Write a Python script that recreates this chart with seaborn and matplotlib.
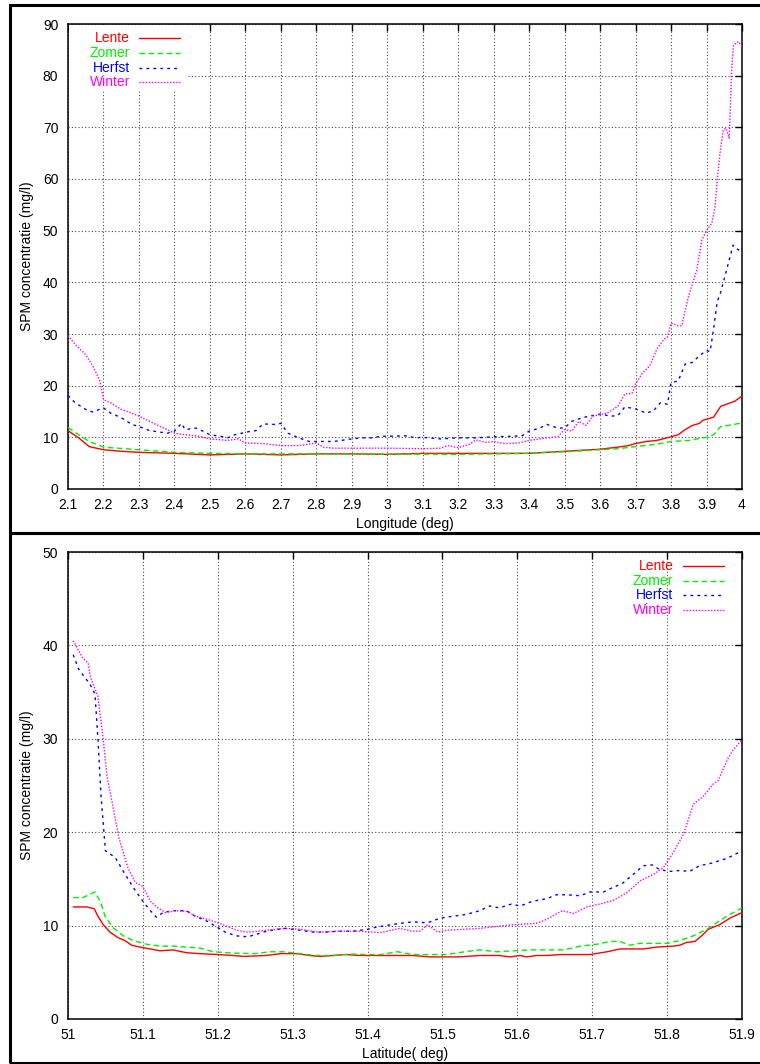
import matplotlib
matplotlib.use("Agg")
import matplotlib.pyplot as plt
from matplotlib.patches import Rectangle
from matplotlib.lines import Line2D
import seaborn as sns

# ---------------- data ----------------
series_names = ["Lente", "Zomer", "Herfst", "Winter"]

top_lente_x = [2.10,2.13,2.16,2.20,2.25,2.30,2.40,2.50,2.60,2.70,2.80,2.90,3.00,3.10,3.20,3.30,3.40,3.45,3.50,3.55,3.60,3.65,3.68,3.70,3.73,3.76,3.80,3.82,3.84,3.86,3.88,3.89,3.92,3.94,3.96,3.98,4.00]
top_lente_y = [11.3,9.9,8.2,7.6,7.3,7.1,6.9,6.6,6.8,6.6,6.8,6.8,6.7,6.9,6.9,6.9,6.9,7.1,7.3,7.5,7.7,8.1,8.4,8.8,9.2,9.4,10.1,10.5,11.5,12.3,12.7,13.3,13.9,16.0,16.5,17.0,18.0]

top_zomer_x = [2.10,2.13,2.16,2.20,2.30,2.40,2.50,2.60,2.70,2.80,2.90,3.00,3.10,3.20,3.30,3.40,3.45,3.50,3.55,3.60,3.65,3.70,3.75,3.78,3.80,3.85,3.90,3.92,3.94,3.97,4.00]
top_zomer_y = [11.9,10.5,9.2,8.1,7.6,7.1,6.9,6.8,6.8,6.8,6.8,6.75,6.75,6.7,6.8,6.9,7.1,7.2,7.4,7.6,7.8,8.2,8.6,8.9,9.2,9.4,10.0,10.5,12.1,12.4,12.8]

top_herfst_x = [2.10,2.12,2.15,2.17,2.20,2.22,2.25,2.28,2.30,2.33,2.36,2.38,2.40,2.42,2.43,2.46,2.48,2.50,2.53,2.55,2.57,2.59,2.60,2.63,2.65,2.68,2.70,2.72,2.75,2.78,2.82,2.85,2.88,2.90,2.93,2.96,2.98,3.00,3.05,3.08,3.10,3.15,3.20,3.25,3.30,3.35,3.38,3.40,3.43,3.45,3.48,3.50,3.52,3.55,3.57,3.60,3.63,3.65,3.67,3.70,3.73,3.75,3.77,3.79,3.80,3.82,3.84,3.86,3.88,3.90,3.91,3.92,3.93,3.94,3.96,3.97,3.975,3.985,4.00]
top_herfst_y = [18.1,16.7,15.4,14.9,15.7,14.7,13.8,12.5,12.1,11.3,11.0,10.8,11.2,12.7,11.5,11.8,11.2,10.5,10.2,9.9,10.5,10.8,11.0,11.3,12.6,12.5,12.7,10.8,9.9,9.2,9.2,9.2,9.5,9.7,9.9,9.9,10.2,10.2,10.3,9.9,10.0,9.7,9.9,9.9,10.1,10.2,10.3,11.2,11.8,12.5,11.8,11.8,13.1,13.8,14.1,14.5,14.1,14.2,15.9,15.5,14.7,15.1,16.7,16.4,20.6,20.9,24.2,24.5,25.8,26.8,26.6,31.0,36.2,38.1,43.3,45.9,47.2,46.5,45.9]

top_winter_x = [2.10,2.12,2.15,2.17,2.19,2.20,2.22,2.25,2.28,2.30,2.33,2.36,2.40,2.43,2.47,2.50,2.55,2.58,2.60,2.65,2.70,2.75,2.80,2.82,2.85,2.90,2.95,3.00,3.10,3.15,3.17,3.20,3.23,3.25,3.28,3.30,3.33,3.37,3.40,3.45,3.48,3.50,3.52,3.54,3.56,3.58,3.62,3.65,3.67,3.69,3.70,3.72,3.74,3.76,3.78,3.79,3.80,3.82,3.83,3.85,3.872,3.887,3.90,3.915,3.924,3.93,3.938,3.947,3.955,3.964,3.967,3.971,3.976,3.99,4.00]
top_winter_y = [29.7,28.0,26.0,23.8,20.9,17.3,16.7,15.4,14.7,14.1,13.1,12.1,10.8,10.5,10.2,9.7,9.4,9.7,8.9,8.8,8.4,8.4,8.9,8.1,7.9,7.9,7.9,7.9,7.8,7.9,8.4,8.0,8.6,9.5,9.0,9.2,8.8,8.9,9.4,9.9,10.1,11.5,11.2,13.1,12.3,14.1,14.7,16.0,18.4,18.5,20.3,22.5,23.8,27.1,29.0,29.4,32.1,31.6,31.6,37.5,42.2,48.2,50.0,51.5,54.6,59.8,65.0,69.5,69.8,67.9,74.0,81.1,85.9,86.6,85.6]

bot_lente_x = [51.007,51.025,51.035,51.040,51.047,51.056,51.067,51.076,51.085,51.096,51.110,51.123,51.140,51.158,51.176,51.200,51.220,51.235,51.265,51.284,51.305,51.323,51.336,51.354,51.370,51.390,51.417,51.460,51.483,51.523,51.550,51.576,51.590,51.604,51.612,51.626,51.640,51.657,51.697,51.720,51.737,51.768,51.786,51.808,51.817,51.826,51.837,51.846,51.855,51.870,51.884,51.900]
bot_lente_y = [12.0,12.0,11.8,11.0,10.1,9.3,8.7,8.4,7.9,7.7,7.5,7.3,7.4,7.1,7.0,6.9,6.8,6.7,6.8,7.0,7.0,6.8,6.7,6.8,6.9,6.8,6.8,6.8,6.65,6.65,6.8,6.8,6.65,6.8,6.65,6.8,6.8,6.9,6.9,7.2,7.5,7.5,7.7,7.8,7.9,8.2,8.3,8.9,9.6,10.1,10.8,11.4]

bot_zomer_x = [51.007,51.020,51.036,51.043,51.050,51.060,51.074,51.087,51.105,51.123,51.140,51.158,51.176,51.194,51.220,51.250,51.270,51.287,51.310,51.330,51.354,51.378,51.400,51.417,51.440,51.460,51.483,51.505,51.530,51.550,51.572,51.595,51.617,51.640,51.662,51.684,51.706,51.724,51.737,51.750,51.764,51.782,51.800,51.817,51.835,51.853,51.870,51.884,51.900]
bot_zomer_y = [13.0,13.0,13.6,12.6,10.9,9.8,8.9,8.4,8.0,7.8,7.8,7.7,7.6,7.2,7.05,7.0,7.2,7.2,7.0,6.8,6.8,6.95,6.9,6.9,7.2,6.9,6.9,6.9,7.2,7.4,7.2,7.3,7.4,7.4,7.4,7.8,8.0,8.3,8.3,7.9,8.1,8.1,8.1,8.4,8.9,9.6,10.5,11.2,11.9]

bot_herfst_x = [51.007,51.014,51.023,51.029,51.036,51.040,51.044,51.050,51.063,51.074,51.087,51.100,51.110,51.118,51.127,51.140,51.158,51.170,51.185,51.200,51.210,51.225,51.240,51.253,51.265,51.280,51.290,51.310,51.327,51.345,51.360,51.380,51.400,51.410,51.417,51.440,51.460,51.480,51.497,51.514,51.532,51.550,51.563,51.576,51.592,51.604,51.620,51.640,51.652,51.666,51.684,51.697,51.715,51.728,51.740,51.755,51.768,51.780,51.790,51.803,51.817,51.830,51.843,51.860,51.880,51.900]
bot_herfst_y = [39.0,37.5,36.5,35.9,34.8,30.0,24.0,18.0,17.3,15.8,14.1,12.6,11.6,10.9,11.4,11.6,11.6,11.0,10.5,9.8,9.3,8.9,8.8,9.1,9.4,9.6,9.7,9.5,9.3,9.3,9.4,9.4,9.6,9.8,9.9,10.2,10.4,10.3,10.8,11.0,11.2,11.6,12.1,11.9,12.3,12.1,12.6,12.9,13.3,13.3,13.2,13.6,13.6,14.1,14.5,15.5,16.4,16.5,16.0,15.8,15.9,15.8,16.4,16.7,17.2,18.0]

bot_winter_x = [51.007,51.020,51.027,51.030,51.040,51.047,51.052,51.057,51.063,51.068,51.080,51.090,51.100,51.110,51.120,51.130,51.145,51.160,51.170,51.185,51.200,51.210,51.225,51.240,51.265,51.290,51.310,51.336,51.360,51.390,51.417,51.443,51.460,51.470,51.480,51.494,51.505,51.528,51.550,51.572,51.595,51.617,51.626,51.640,51.660,51.675,51.693,51.710,51.728,51.746,51.764,51.782,51.795,51.808,51.822,51.835,51.848,51.862,51.868,51.880,51.888,51.900]
bot_winter_y = [40.5,38.6,38.1,36.6,34.5,30.0,26.0,24.0,21.5,19.4,16.2,14.6,14.2,12.6,11.9,11.4,11.6,11.5,11.0,10.7,10.3,10.0,9.5,9.3,9.5,9.7,9.6,9.3,9.4,9.4,9.25,9.7,9.4,9.4,10.1,9.3,9.5,9.6,9.7,9.9,10.1,10.2,10.25,10.7,11.6,11.3,12.0,12.3,12.7,13.5,14.8,15.5,16.2,17.8,19.8,23.0,23.8,25.2,25.5,27.7,28.8,29.9]

top_xticks = [2.1,2.2,2.3,2.4,2.5,2.6,2.7,2.8,2.9,3.0,3.1,3.2,3.3,3.4,3.5,3.6,3.7,3.8,3.9,4.0]
top_xticklabels = ["2.1","2.2","2.3","2.4","2.5","2.6","2.7","2.8","2.9","3","3.1","3.2","3.3","3.4","3.5","3.6","3.7","3.8","3.9","4"]
top_yticks = [0,10,20,30,40,50,60,70,80,90]
bot_xticks = [51.0,51.1,51.2,51.3,51.4,51.5,51.6,51.7,51.8,51.9]
bot_xticklabels = ["51","51.1","51.2","51.3","51.4","51.5","51.6","51.7","51.8","51.9"]
bot_yticks = [0,10,20,30,40,50]

ylabel_text = "SPM concentratie (mg/l)"
top_xlabel = "Longitude (deg)"
bot_xlabel = "Latitude( deg)"

# ---------------- style ----------------
colors = ["#ff0000", "#00ee00", "#0000ff", "#ff00ff"]
styles = ["-", (0, (4, 2.5)), (0, (2, 3)), (0, (1, 1.2))]

sns.set_theme(style="white")
plt.rcParams["font.family"] = ["Liberation Sans", "DejaVu Sans"]
plt.rcParams["font.size"] = 10

W, H = 760, 1064
fig = plt.figure(figsize=(W / 100, H / 100), dpi=100)


def frac_box(x0, y0, x1, y1):
    return [x0 / W, 1 - y1 / H, (x1 - x0) / W, (y1 - y0) / H]


ax_top = fig.add_axes(frac_box(68, 24, 742, 489))
ax_bot = fig.add_axes(frac_box(68, 552, 742, 1019))

top_data = [(top_lente_x, top_lente_y), (top_zomer_x, top_zomer_y),
            (top_herfst_x, top_herfst_y), (top_winter_x, top_winter_y)]
bot_data = [(bot_lente_x, bot_lente_y), (bot_zomer_x, bot_zomer_y),
            (bot_herfst_x, bot_herfst_y), (bot_winter_x, bot_winter_y)]


def style_axes(ax, xticks, xlabels, yticks, xlim, ylim, xlabel):
    ax.set_xlim(*xlim)
    ax.set_ylim(*ylim)
    ax.set_xticks(xticks)
    ax.set_xticklabels(xlabels)
    ax.set_yticks(yticks)
    ax.set_yticklabels([str(v) for v in yticks])
    ax.tick_params(direction="in", length=5, width=1, top=True, right=True,
                   labelsize=10, colors="black", pad=6.5)
    ax.tick_params(axis="y", pad=7)
    ax.grid(True, color="0.3", linestyle=(0, (1, 2)), linewidth=0.8)
    ax.set_axisbelow(True)
    for sp in ax.spines.values():
        sp.set_visible(True)
        sp.set_color("black")
        sp.set_linewidth(1.1)
    ax.set_ylabel(ylabel_text, fontsize=10, color="black")
    ax.set_xlabel(xlabel, fontsize=10, color="black")
    ax.yaxis.set_label_coords(-0.050, 0.5)
    ax.xaxis.set_label_coords(0.5, -0.060)
    ax.set_facecolor("white")


for ax, data in [(ax_top, top_data), (ax_bot, bot_data)]:
    for (xs, ys), c, ls in zip(data, colors, styles):
        sns.lineplot(x=xs, y=ys, ax=ax, color=c, linestyle=ls, linewidth=1.0,
                     legend=False, sort=False, estimator=None, zorder=3)

style_axes(ax_top, top_xticks, top_xticklabels, top_yticks, (2.1, 4.0), (0, 90), top_xlabel)
style_axes(ax_bot, bot_xticks, bot_xticklabels, bot_yticks, (51.0, 51.9), (0, 50), bot_xlabel)

# white key area in top panel (hides grid, like gnuplot)
ax_top.add_patch(Rectangle((0.002, 0.858), 0.176, 0.139, transform=ax_top.transAxes,
                           facecolor="white", edgecolor="none", zorder=2))


def draw_key(ax, text_x, line_x0, line_x1, rows):
    for name, c, ls, yy in zip(series_names, colors, styles, rows):
        ax.text(text_x, yy, name, transform=ax.transAxes, ha="right", va="center",
                color=c, fontsize=10, zorder=5)
        ax.add_line(Line2D([line_x0, line_x1], [yy, yy], transform=ax.transAxes,
                           color=c, linestyle=ls, linewidth=1.0, zorder=5))


draw_key(ax_top, 0.092, 0.105, 0.166, [0.970, 0.938, 0.906, 0.875])
draw_key(ax_bot, 0.898, 0.912, 0.973, [0.970, 0.938, 0.907, 0.876])

# panel frames
lw_frame = 2.2
fig.add_artist(Rectangle((10 / W, 1 - 533 / H), 1.2, (533 - 5) / H, transform=fig.transFigure,
                         fill=False, edgecolor="black", linewidth=lw_frame, clip_on=False))
fig.add_artist(Rectangle((10 / W, 1 - 1063 / H), 1.2, (1063 - 533) / H, transform=fig.transFigure,
                         fill=False, edgecolor="black", linewidth=lw_frame, clip_on=False))

fig.savefig("out.png", dpi=100, facecolor="white")
